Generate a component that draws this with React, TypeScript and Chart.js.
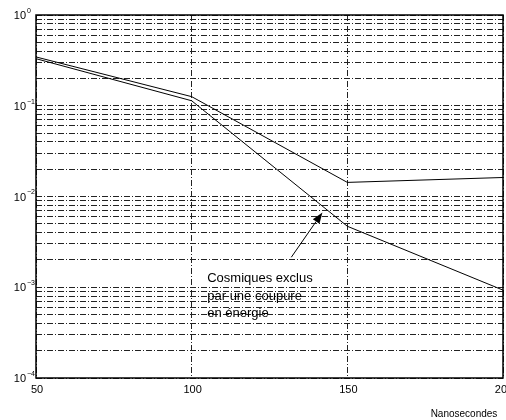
import React, { useEffect, useRef } from "react";
import { Chart, registerables } from "chart.js";

Chart.register(...registerables);

const xValues = [50, 100, 150, 200];
const upperSeries = [0.345, 0.126, 0.0143, 0.0162];
const lowerSeries = [0.33, 0.1135, 0.0047, 0.00093];
const xTickLabels = ["50", "100", "150", "200"];
const yTickExponents = [0, -1, -2, -3, -4];
const xAxisTitle = "Nanosecondes";
const annotationLines = ["Cosmiques exclus", "par une coupure", "en énergie"];
const annotationTextAnchor = { x: 105, y: 0.00114 };
const arrowTail = { x: 132, y: 0.00214 };
const arrowTip = { x: 142, y: 0.00668 };

const FONT = "Arial, 'Liberation Sans', Helvetica, sans-serif";

const decorPlugin = {
  id: "decor",
  afterDraw(chart: any) {
    const { ctx, chartArea, scales } = chart;
    const xs = scales.x;
    const ys = scales.y;
    ctx.save();
    // frame
    ctx.strokeStyle = "#000";
    ctx.lineWidth = 1.5;
    ctx.setLineDash([]);
    ctx.strokeRect(chartArea.left, chartArea.top, chartArea.right - chartArea.left, chartArea.bottom - chartArea.top);

    // y labels
    ctx.fillStyle = "#000";
    yTickExponents.forEach((e) => {
      const py = ys.getPixelForValue(Math.pow(10, e));
      const expStr = e === 0 ? "0" : "\u2212" + Math.abs(e);
      const baseRight = chartArea.left - 10;
      ctx.textBaseline = "middle";
      ctx.font = `11px ${FONT}`;
      ctx.textAlign = "right";
      ctx.fillText("10", baseRight, py + 1);
      ctx.font = `7px ${FONT}`;
      ctx.textAlign = "left";
      ctx.fillText(expStr, baseRight + 1, py - 4);
    });

    // x labels
    ctx.font = `11px ${FONT}`;
    ctx.textAlign = "center";
    ctx.textBaseline = "top";
    xValues.forEach((v, i) => {
      const px = xs.getPixelForValue(v);
      ctx.fillText(xTickLabels[i], px + 1, chartArea.bottom + 6);
    });

    // axis title
    ctx.font = `10px ${FONT}`;
    ctx.textAlign = "center";
    ctx.textBaseline = "middle";
    ctx.fillText(xAxisTitle, 464, chartArea.bottom + 36);

    // annotation text
    ctx.font = `13px ${FONT}`;
    ctx.textAlign = "left";
    ctx.textBaseline = "alphabetic";
    const tx = xs.getPixelForValue(annotationTextAnchor.x);
    const ty = ys.getPixelForValue(annotationTextAnchor.y);
    annotationLines.forEach((line, i) => {
      ctx.fillText(line, tx, ty + i * 17.5);
    });

    // arrow
    const ax0 = xs.getPixelForValue(arrowTail.x);
    const ay0 = ys.getPixelForValue(arrowTail.y);
    const ax1 = xs.getPixelForValue(arrowTip.x);
    const ay1 = ys.getPixelForValue(arrowTip.y);
    const ang = Math.atan2(ay1 - ay0, ax1 - ax0);
    const headLen = 11;
    const headW = 4;
    ctx.strokeStyle = "#000";
    ctx.lineWidth = 1;
    ctx.beginPath();
    ctx.moveTo(ax0, ay0);
    ctx.lineTo(ax1 - headLen * Math.cos(ang), ay1 - headLen * Math.sin(ang));
    ctx.stroke();
    ctx.beginPath();
    ctx.moveTo(ax1, ay1);
    const bx = ax1 - headLen * Math.cos(ang);
    const by = ay1 - headLen * Math.sin(ang);
    ctx.lineTo(bx + headW * Math.sin(ang), by - headW * Math.cos(ang));
    ctx.lineTo(bx - headW * Math.sin(ang), by + headW * Math.cos(ang));
    ctx.closePath();
    ctx.fillStyle = "#000";
    ctx.fill();
    ctx.restore();
  },
};

export default function App() {
  const ref = useRef<HTMLCanvasElement | null>(null);
  useEffect(() => {
    document.body.style.margin = "0";
    const canvas = ref.current;
    if (!canvas) return;
    const minorTicks: number[] = [];
    for (let e = -4; e <= 0; e++) {
      for (let m = 1; m <= 9; m++) {
        const v = m * Math.pow(10, e);
        if (v <= 1.0000001) minorTicks.push(v);
      }
    }
    const chart = new Chart(canvas, {
      type: "line",
      data: {
        datasets: [
          {
            data: xValues.map((x, i) => ({ x, y: upperSeries[i] })),
            borderColor: "#000",
            borderWidth: 1,
            pointRadius: 0,
            tension: 0,
            fill: false,
          },
          {
            data: xValues.map((x, i) => ({ x, y: lowerSeries[i] })),
            borderColor: "#000",
            borderWidth: 1,
            pointRadius: 0,
            tension: 0,
            fill: false,
          },
        ],
      },
      options: {
        animation: false,
        responsive: false,
        devicePixelRatio: 1,
        layout: { padding: { left: 36, right: 3, top: 15, bottom: 42 } },
        plugins: { legend: { display: false }, tooltip: { enabled: false } },
        scales: {
          x: {
            type: "linear",
            min: 50,
            max: 200,
            afterBuildTicks: (s: any) => {
              s.ticks = xValues.map((v) => ({ value: v }));
            },
            ticks: { display: false },
            border: { display: false, dash: [6, 2, 1, 2] },
            grid: {
              drawTicks: false,
              color: "#222",
              lineWidth: 1,
            },
          },
          y: {
            type: "logarithmic",
            min: 0.0001,
            max: 1,
            afterBuildTicks: (s: any) => {
              s.ticks = minorTicks.map((v) => ({ value: v }));
            },
            ticks: { display: false },
            border: { display: false, dash: [6, 2, 1, 2] },
            grid: {
              drawTicks: false,
              color: "#222",
              lineWidth: 1,
            },
          },
        },
      } as any,
      plugins: [decorPlugin],
    });
    return () => chart.destroy();
  }, []);
  return <canvas ref={ref} width={506} height={420} style={{ display: "block", width: 506, height: 420 }} />;
}
